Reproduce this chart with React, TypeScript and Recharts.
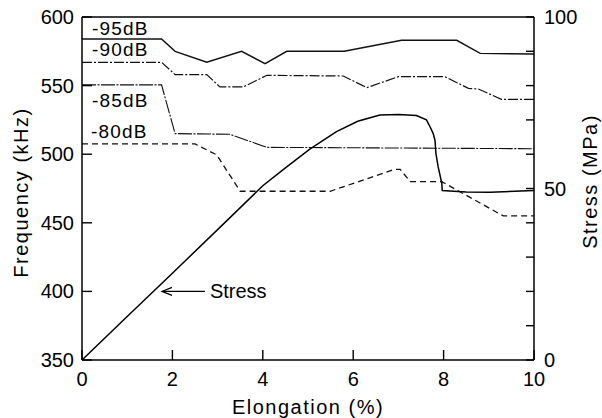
import React from 'react';
import { LineChart, Line, XAxis, YAxis, ReferenceLine, ReferenceDot } from 'recharts';

const FONT = '"Liberation Sans", Arial, Helvetica, sans-serif';

// -95dB contour (kHz vs elongation %)
const elong95 = [0, 1.76, 2.06, 2.76, 3.53, 4.05, 4.53, 5.8, 7.07, 8.29, 8.81, 10];
const freq95 = [584, 584, 575, 567, 575, 566, 575, 575, 583, 583, 573.5, 573];

// -90dB contour
const elong90 = [0, 1.76, 2.06, 2.76, 3.05, 3.57, 4.09, 5.78, 6.3, 7.0, 8.03, 8.55, 8.77, 9.28, 10];
const freq90 = [567, 567, 558, 558, 549, 549, 557.5, 557, 548.5, 556.5, 556.5, 548, 547.5, 540, 540];

// -85dB contour
const elong85 = [0, 1.76, 2.06, 3.27, 4.09, 10];
const freq85 = [550.5, 550.5, 515, 514.5, 505, 504];

// -80dB contour
const elong80 = [0, 2.5, 2.98, 3.5, 5.49, 6.92, 7.04, 7.26, 7.96, 9.32, 10];
const freq80 = [507.5, 507.5, 499.5, 473, 473, 489, 489, 480, 480, 455, 455];

// stress-strain curve (MPa)
const elongS = [0, 1, 2, 3, 4, 4.5, 5.04, 5.63, 6.1, 6.59, 7.0, 7.4, 7.62, 7.7, 7.77, 7.81, 7.83, 7.88, 7.96, 7.97, 8.5, 9.03, 10];
const stress = [0, 12.7, 25.3, 38, 50.8, 56, 61.5, 66.6, 69.6, 71.4, 71.6, 71.3, 70, 68, 66, 64, 60.2, 56.3, 51.5, 49.4, 49, 48.9, 49.4];

const xTicks = [0, 2, 4, 6, 8, 10];
const freqTicks = [350, 400, 450, 500, 550, 600];
const stressTicks = [0, 10, 20, 30, 40, 50, 60, 70, 80, 90, 100];
const stressLabels = [0, 50, 100];

const contourLabels = [
  { text: '-95dB', x: 0.22, y: 591.5 },
  { text: '-90dB', x: 0.22, y: 576.3 },
  { text: '-85dB', x: 0.22, y: 539.5 },
  { text: '-80dB', x: 0.2, y: 516.2 },
];

const toPoints = (xs: number[], ys: number[]) => xs.map((x, i) => ({ x, y: ys[i] }));

const tickStyle = { stroke: '#000', strokeWidth: 1.4 };

const LeftTick = (props: any) => {
  const { x, y, payload } = props;
  return (
    <g>
      <line x1={x} y1={y} x2={x + 10} y2={y} style={tickStyle} />
      <text x={x - 8} y={y} textAnchor="end" dominantBaseline="central" fontSize={20} fontFamily={FONT} fill="#000">
        {payload.value}
      </text>
    </g>
  );
};

const RightTick = (props: any) => {
  const { x, y, payload } = props;
  return (
    <g>
      <line x1={x} y1={y} x2={x - 8} y2={y} style={tickStyle} />
      {stressLabels.includes(payload.value) && (
        <text x={x + 10} y={y} textAnchor="start" dominantBaseline="central" fontSize={20} fontFamily={FONT} fill="#000">
          {payload.value}
        </text>
      )}
    </g>
  );
};

const BottomTick = (props: any) => {
  const { x, y, payload } = props;
  return (
    <g>
      <line x1={x} y1={y} x2={x} y2={y - 10} style={tickStyle} />
      <text x={x} y={y + 19} textAnchor="middle" dominantBaseline="central" fontSize={20} fontFamily={FONT} fill="#000">
        {payload.value}
      </text>
    </g>
  );
};

const AxisTitle = (props: any) => {
  const { viewBox, text, side, shiftY = 0, rot = 0 } = props;
  const cx = side === 'left' ? 21 : side === 'right' ? 590 : viewBox.x + viewBox.width / 2;
  const cy = side === 'bottom' ? 406.5 : viewBox.y + viewBox.height / 2 + shiftY;
  return (
    <text
      x={cx}
      y={cy}
      transform={rot ? `rotate(${rot} ${cx} ${cy})` : undefined}
      textAnchor="middle"
      dominantBaseline="central"
      fontSize={20}
      letterSpacing={1.5}
      fontFamily={FONT}
      fill="#000"
    >
      {text}
    </text>
  );
};

const Tag = (props: any) => {
  const { viewBox, text } = props;
  return (
    <text x={viewBox.x} y={viewBox.y} dominantBaseline="central" fontSize={19} letterSpacing={1.2} fontFamily={FONT} fill="#000">
      {text}
    </text>
  );
};

const StressArrow = (props: any) => {
  const { x1, y1, x2, y2 } = props;
  return (
    <g>
      <line x1={x1} y1={y1} x2={x2} y2={y2} style={{ stroke: '#000', strokeWidth: 1.2 }} />
      <path d={`M ${x2 + 10} ${y2 - 4} L ${x2} ${y2} L ${x2 + 10} ${y2 + 4}`} style={{ fill: 'none', stroke: '#000', strokeWidth: 1.2 }} />
      <text x={x1 + 5} y={y1} dominantBaseline="central" fontSize={20} fontFamily={FONT} fill="#000">
        Stress
      </text>
    </g>
  );
};

export default function App() {
  return (
    <div style={{ position: 'absolute', left: 0, top: 0, background: '#fff' }}>
      <LineChart width={602} height={418} margin={{ top: 17, right: 0, left: 0, bottom: 0 }}>
        <XAxis
          type="number"
          dataKey="x"
          domain={[0, 10]}
          ticks={xTicks}
          height={58}
          tickSize={0}
          tickMargin={0}
          tick={<BottomTick />}
          axisLine={{ stroke: '#000', strokeWidth: 1.5 }}
          tickLine={false}
          label={<AxisTitle text="Elongation (%)" side="bottom" />}
        />
        <YAxis
          yAxisId="left"
          type="number"
          domain={[350, 600]}
          ticks={freqTicks}
          width={82}
          tickSize={0}
          tickMargin={0}
          tick={<LeftTick />}
          axisLine={{ stroke: '#000', strokeWidth: 1.5 }}
          tickLine={false}
          label={<AxisTitle text="Frequency (kHz)" side="left" rot={-90} shiftY={4} />}
        />
        <YAxis
          yAxisId="right"
          orientation="right"
          type="number"
          domain={[0, 100]}
          ticks={stressTicks}
          width={68}
          tickSize={0}
          tickMargin={0}
          tick={<RightTick />}
          axisLine={{ stroke: '#000', strokeWidth: 1.5 }}
          tickLine={false}
          label={<AxisTitle text="Stress (MPa)" side="right" rot={-90} shiftY={-7} />}
        />
        <ReferenceLine yAxisId="left" y={600} stroke="#000" strokeWidth={1.5} ifOverflow="visible" />

        <Line yAxisId="left" data={toPoints(elong95, freq95)} dataKey="y" type="linear" stroke="#111" strokeWidth={1.4} dot={false} isAnimationActive={false} />
        <Line yAxisId="left" data={toPoints(elong90, freq90)} dataKey="y" type="linear" stroke="#111" strokeWidth={1.2} strokeDasharray="10 2 2 2" dot={false} isAnimationActive={false} />
        <Line yAxisId="left" data={toPoints(elong85, freq85)} dataKey="y" type="linear" stroke="#111" strokeWidth={1.1} strokeDasharray="14 1.5 2 1.5" dot={false} isAnimationActive={false} />
        <Line yAxisId="left" data={toPoints(elong80, freq80)} dataKey="y" type="linear" stroke="#111" strokeWidth={1.3} strokeDasharray="6 4" dot={false} isAnimationActive={false} />
        <Line yAxisId="right" data={toPoints(elongS, stress)} dataKey="y" type="linear" stroke="#000" strokeWidth={1.5} dot={false} isAnimationActive={false} />

        {contourLabels.map((l) => (
          <ReferenceDot key={l.text} yAxisId="left" x={l.x} y={l.y} r={0} fill="none" stroke="none" ifOverflow="visible" label={<Tag text={l.text} />} />
        ))}
        <ReferenceLine
          yAxisId="left"
          segment={[{ x: 2.72, y: 400 }, { x: 1.77, y: 400 }]}
          ifOverflow="visible"
          shape={<StressArrow />}
        />
      </LineChart>
    </div>
  );
}
